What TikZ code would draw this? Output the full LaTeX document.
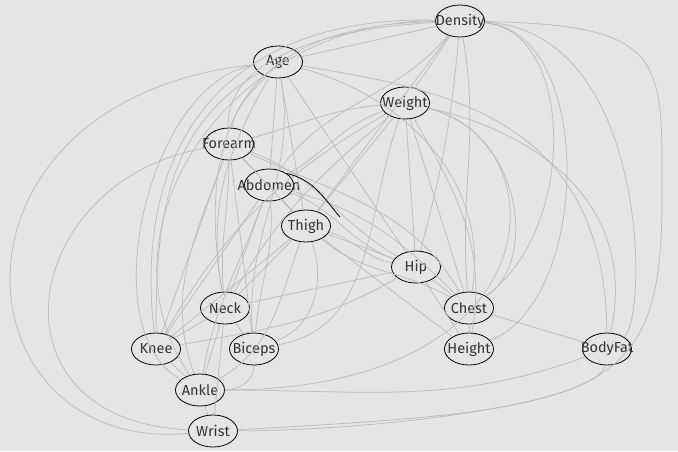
\documentclass[tikz,border=0pt]{standalone}
\usepackage{fontspec}
\setmainfont{Fira Sans}
\usepackage{tikz}
\usetikzlibrary{shapes.geometric}
\definecolor{bgrey}{HTML}{E5E5E5}
\definecolor{egrey}{HTML}{BDBDBD}
\definecolor{tgrey}{HTML}{333333}
\tikzset{var/.style={ellipse, draw=black, line width=.8pt, minimum width=49pt, minimum height=32pt, inner sep=0pt, label={[text=tgrey, font=\fontsize{14.5}{15}\selectfont, inner sep=0pt]center:#1}}, edge/.style={draw=egrey, line width=.75pt}}

\begin{document}
\begin{tikzpicture}[x=1pt,y=1pt]
                 \useasboundingbox (0,0) rectangle (678,-451);
                 \fill[bgrey] (0,0) rectangle (678,-451);
                 % variables
                 \node[var=Density] (dens) at (460,-21) {};
                 \node[var=Age] (age) at (278,-62) {};
                 \node[var=Weight] (weight) at (405,-103) {};
                 \node[var=Forearm] (forearm) at (229,-144) {};
                 \node[var=Abdomen] (abdomen) at (269,-185) {};
                 \node[var=Thigh] (thigh) at (306,-226) {};
                 \node[var=Hip] (hip) at (416,-267) {};
                 \node[var=Neck] (neck) at (225,-308) {};
                 \node[var=Chest] (chest) at (469,-308) {};
                 \node[var=Knee] (knee) at (156,-349) {};
                 \node[var=Biceps] (biceps) at (254,-349) {};
                 \node[var=Height] (height) at (469,-349) {};
                 \node[var=BodyFat] (bodyfat) at (607,-349) {};
                 \node[var=Ankle] (ankle) at (200,-390) {};
                 \node[var=Wrist] (wrist) at (213,-431) {};
                 \coordinate (cut) at (340,-217);
                 % edges
                 \begin{scope}[edge]
                 \draw(dens)--(age);
                 \draw(dens)--(weight);
                 \draw(dens)--(thigh);
                 \draw(dens)to[out=230,in=55](abdomen);
                 \draw(dens)to[out=265,in=75](hip);
                 \draw(dens)to[out=280,in=95](chest);
                 \draw(dens)..controls(575,-30)and(578,-230)..(chest);
                 \draw(dens)..controls(595,-30)and(592,-300)..(height);
                 \draw(dens)..controls(650,-30)and(648,-320)..(bodyfat);
                 \draw(dens)..controls(670,-25)and(662,-60)..(662,-200)..controls(662,-400)and(600,-410)..(wrist);
                 \draw(dens)..controls(250,-15)and(130,-120)..(knee);
                 \draw(dens)..controls(270,-25)and(190,-100)..(neck);
                 \draw(dens)..controls(300,-30)and(225,-70)..(forearm);
                 \draw(dens)..controls(230,-20)and(90,-230)..(ankle);
                 \draw(age)to[out=230,in=80](forearm);
                 \draw(age)--(abdomen);
                 \draw(age)--(thigh);
                 \draw(age)--(hip);
                 \draw(age)to[out=240,in=100](neck);
                 \draw(age)to[out=210,in=90](knee);
                 \draw(age)to[out=280,in=95](biceps);
                 \draw(age)to[out=-15,in=80](chest);
                 \draw(age)..controls(450,-90)and(605,-120)..(bodyfat);
                 \draw(age)..controls(-75,-100)and(-45,-455)..(wrist);
                 \draw(age)..controls(150,-80)and(90,-330)..(ankle);
                 \draw(weight)to[out=185,in=15](forearm);
                 \draw(weight)to[out=200,in=30](abdomen);
                 \draw(weight)--(thigh);
                 \draw(weight)--(hip);
                 \draw(weight)--(chest);
                 \draw(weight)to[out=-60,in=80](height);
                 \draw(weight)to[out=220,in=60](neck);
                 \draw(weight)to[out=210,in=60](knee);
                 \draw(weight)to[out=250,in=10](biceps);
                 \draw(weight)..controls(530,-130)and(640,-200)..(bodyfat);
                 \draw(weight)..controls(560,-140)and(560,-390)..(ankle);
                 \draw(weight)..controls(520,-130)and(540,-260)..(chest);
                 \draw(forearm)--(abdomen);
                 \draw(forearm)--(thigh);
                 \draw(forearm)to[out=270,in=95](neck);
                 \draw(forearm)--(knee);
                 \draw(forearm)--(biceps);
                 \draw(forearm)to[out=250,in=110](ankle);
                 \draw(forearm)..controls(20,-180)and(-20,-420)..(wrist);
                 \draw(forearm)to[out=-20,in=150](hip);
                 \draw(forearm)to[out=-25,in=120](chest);
                 \draw(abdomen)--(thigh);
                 \draw(abdomen)to[out=-20,in=160](hip);
                 \draw(abdomen)to[out=-15,in=135](chest);
                 \draw(abdomen)--(neck);
                 \draw(abdomen)--(knee);
                 \draw(abdomen)to[out=275,in=85](biceps);
                 \draw(abdomen)to[out=250,in=80](ankle);
                 \draw(thigh)to[out=-15,in=170](hip);
                 \draw(thigh)--(hip);
                 \draw(thigh)to[out=-40,in=150](chest);
                 \draw(thigh)--(height);
                 \draw(thigh)--(neck);
                 \draw(thigh)--(knee);
                 \draw(thigh)to[out=-70,in=20](biceps);
                 \draw(thigh)to[out=250,in=30](ankle);
                 \draw(hip)--(neck);
                 \draw(hip)--(chest);
                 \draw(hip)--(height);
                 \draw(chest)--(height);
                 \draw(chest)--(bodyfat);
                 \draw(neck)--(knee);
                 \draw(neck)--(biceps);
                 \draw(neck)--(ankle);
                 \draw(neck)--(wrist);
                 \draw(knee)--(ankle);
                 \draw(knee)to[out=10,in=210](hip);
                 \draw(ankle)--(wrist);
                 \draw(ankle)to[out=0,in=270](biceps);
                 \draw(ankle)to[out=0,in=200](bodyfat);
                 \draw(wrist)..controls(400,-430)and(600,-400)..(bodyfat);
                 \end{scope}
                 \draw[line width=.8pt](abdomen.north east)..controls(315,-180)and(325,-200)..(cut);
             \end{tikzpicture}
\end{document}
